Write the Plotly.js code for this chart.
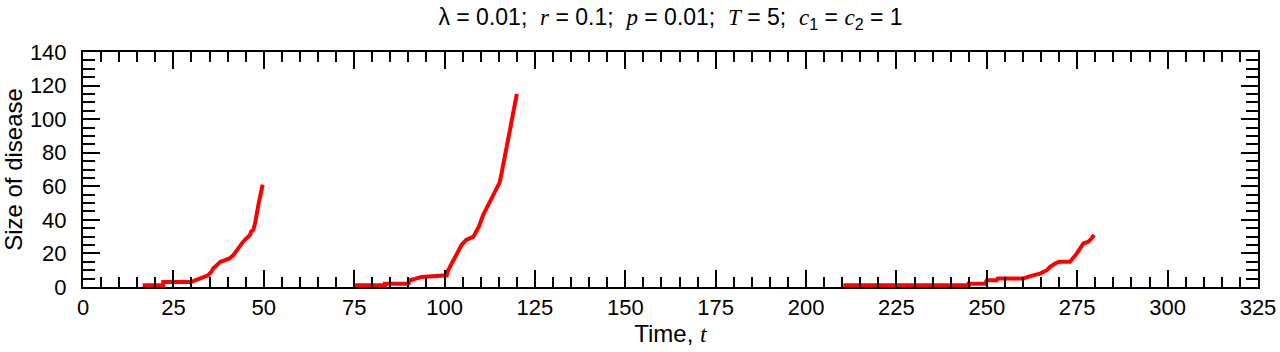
<!DOCTYPE html>
<html>
<head>
<meta charset="utf-8">
<script src="https://cdn.plot.ly/plotly-3.0.1.min.js"></script>
<style>
  html, body { margin: 0; padding: 0; background: #fff; }
  #chart { width: 1280px; height: 352px; }
</style>
</head>
<body>
<div id="chart"></div>
<script>
(function () {
    'use strict';

    // outbreak 1
    var time1 = [16.5, 22.2, 22.2, 30, 31, 32.3, 33.5, 34.6, 35.5, 36, 37, 38, 39.3, 40.5, 41.6, 42.5, 43.5, 44.3, 45.2, 46.2, 46.5, 47.1, 47.6, 48, 48.6, 49.2, 49.7];
    var size1 = [1, 1, 3, 3, 4, 5, 6, 7, 9, 11, 13, 15, 16, 17, 19, 22, 25, 27, 29, 31, 33, 34, 38, 44, 50, 56, 61];

    // outbreak 2
    var time2 = [75.2, 83.5, 83.5, 90, 90.5, 93.7, 100.6, 101, 102, 102.9, 104, 104.7, 106, 108, 109.5, 110.7, 112.6, 113.5, 114.4, 115.2, 115.8, 116.5, 117.2, 118, 118.6, 119.3, 120];
    var size2 = [1, 1, 2, 2, 4, 6, 7, 10, 14, 18, 22, 25, 28, 30, 36, 43, 51, 55, 58, 62, 68, 76, 84, 92, 101, 108, 115];

    // outbreak 3
    var time3 = [210.3, 245, 245, 249.5, 250, 252.7, 253, 260, 262, 264.7, 266.6, 267.5, 268.9, 270, 273, 274.9, 276.7, 278.1, 279, 279.7];
    var size3 = [1, 1, 2, 2, 4, 4, 5, 5, 6.5, 8, 10, 12, 14, 15, 15, 20, 26, 27, 29, 31];

    var sans = 'Liberation Sans, Arial, sans-serif';

    function outbreak(t, y) {
        return {
            x: t,
            y: y,
            mode: 'lines',
            line: { color: '#ff0000', width: 4 },
            showlegend: false,
            hoverinfo: 'x+y'
        };
    }

    var data = [outbreak(time1, size1), outbreak(time2, size2), outbreak(time3, size3)];

    function it(s) {
        return '<span style="font-family:Liberation Serif, Times New Roman, serif;font-style:italic">' + s + '</span>';
    }

    var gap = ';\u00a0\u00a0';
    var titleText = '\u03bb = 0.01' + gap + it('r') + ' = 0.1' + gap + it('p') + ' = 0.01' + gap +
        it('T') + ' = 5' + gap + it('c') + '<sub>1</sub> = ' + it('c') + '<sub>2</sub> = 1';

    var layout = {
        width: 1280,
        height: 352,
        paper_bgcolor: '#ffffff',
        plot_bgcolor: '#ffffff',
        margin: { l: 83, r: 22, t: 52, b: 65, pad: 0 },
        font: { family: sans, color: '#000' },
        title: {
            text: titleText,
            font: { family: sans, size: 23, color: '#000' },
            x: 0.5,
            xref: 'paper',
            y: 0.975,
            yref: 'container',
            xanchor: 'center'
        },
        xaxis: {
            range: [0, 325],
            dtick: 25,
            tick0: 0,
            ticks: 'inside',
            ticklen: 17,
            tickwidth: 2,
            tickcolor: '#000',
            minor: { dtick: 5, ticks: 'inside', ticklen: 10, tickwidth: 2, tickcolor: '#000' },
            showline: true,
            linecolor: '#000',
            linewidth: 2,
            mirror: 'allticks',
            showgrid: false,
            zeroline: false,
            tickfont: { family: sans, size: 22, color: '#000' },
            title: {
                text: 'Time, ' + it('t'),
                font: { family: sans, size: 24, color: '#000' },
                standoff: 6
            }
        },
        yaxis: {
            range: [0, 140],
            dtick: 20,
            tick0: 0,
            ticks: 'inside',
            ticklen: 17,
            tickwidth: 2,
            tickcolor: '#000',
            minor: { dtick: 5, ticks: 'inside', ticklen: 12, tickwidth: 2, tickcolor: '#000' },
            showline: true,
            linecolor: '#000',
            linewidth: 2,
            mirror: 'allticks',
            showgrid: false,
            zeroline: false,
            ticklabelstandoff: 10,
            tickfont: { family: sans, size: 22, color: '#000' },
            title: {
                text: 'Size of disease',
                font: { family: sans, size: 24, color: '#000' },
                standoff: 4
            }
        }
    };

    Plotly.newPlot('chart', data, layout, { displayModeBar: false, staticPlot: true });
})();
</script>
</body>
</html>
